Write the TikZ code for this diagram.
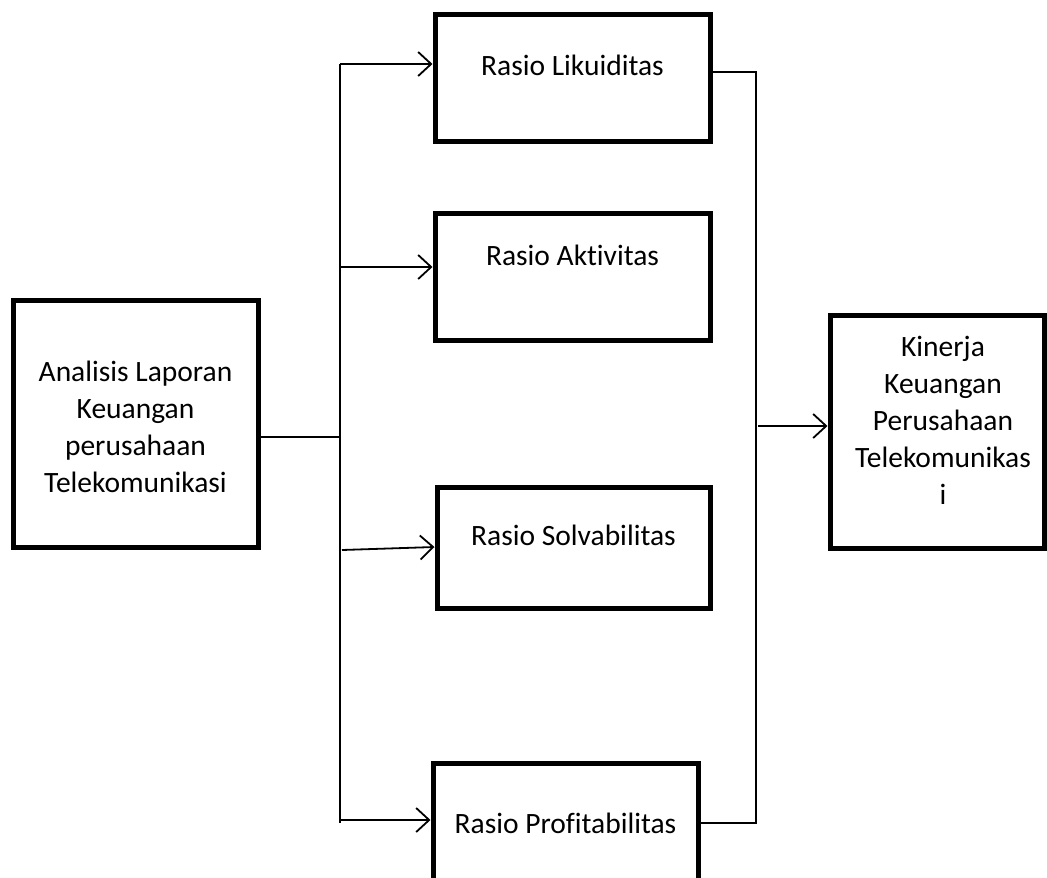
\documentclass[tikz,border=0pt]{standalone}
\usepackage{fontspec}
\setmainfont{Carlito}[Ligatures={NoCommon}]
\usetikzlibrary{arrows.meta}
\begin{document}
\begin{tikzpicture}[x=1pt,y=-1pt,
  box/.style={draw, line width=5pt, minimum width=#1, inner sep=0pt},
  txt/.style={font=\fontsize{29.5}{37}\selectfont, align=center, inner sep=0pt},
  conn/.style={line width=1.8pt},
  arr/.style={conn, -{Straight Barb[length=13pt, width=24pt, line width=1.8pt]}}]
\clip (0,0) rectangle (1047,878);
% boxes
\node[box=275pt, minimum height=127pt] (lik) at (572.5,77.5) {};
\node[txt] (likt) at (572.5,65) {Rasio Likuiditas};
\node[box=275pt, minimum height=127pt] (akt) at (572.5,276.5) {};
\node[txt] (aktt) at (572.5,255) {Rasio Aktivitas};
\node[box=273pt, minimum height=121pt] (sol) at (573.5,547.5) {};
\node[txt] (solt) at (573.5,535) {Rasio Solvabilitas};
\node[box=265pt, minimum height=140pt] (prof) at (565.5,833) {};
\node[txt] (proft) at (565.5,823) {Rasio Profitabilitas};
\node[box=245pt, minimum height=247pt] (src) at (135.5,423.5) {};
\node[txt] (srct) at (135.5,427) {Analisis Laporan\\Keuangan\\perusahaan\\Telekomunikasi};
\node[box=214pt, minimum height=233pt] (tgt) at (937,431.5) {};
\node[txt] (tgtt) at (943,420) {Kinerja\\Keuangan\\Perusahaan\\Telekomunikas\\i};
% bus coordinates
\coordinate (lt) at (340,64);
\coordinate (lb) at (340,823);
\coordinate (lm) at (340,437);
\coordinate (rt) at (756,72);
\coordinate (rb) at (756,823);
% left side
\draw[conn] (src.east |- lm) -- (lm);
\draw[conn] (lt) -- (lb);
\draw[arr] (lt) -- (lik.west |- lt);
\draw[arr] (340,267) -- (akt.west |- 0,267);
\draw[arr] (342,550) -- (sol.west |- 0,547);
\draw[arr] (340,820) -- (prof.west |- 0,820);
% right side
\draw[conn] (lik.east |- rt) -- (rt) -- (rb) -- (prof.east |- rb);
\draw[arr] (758,426) -- (tgt.west |- 0,426);
\end{tikzpicture}
\end{document}
